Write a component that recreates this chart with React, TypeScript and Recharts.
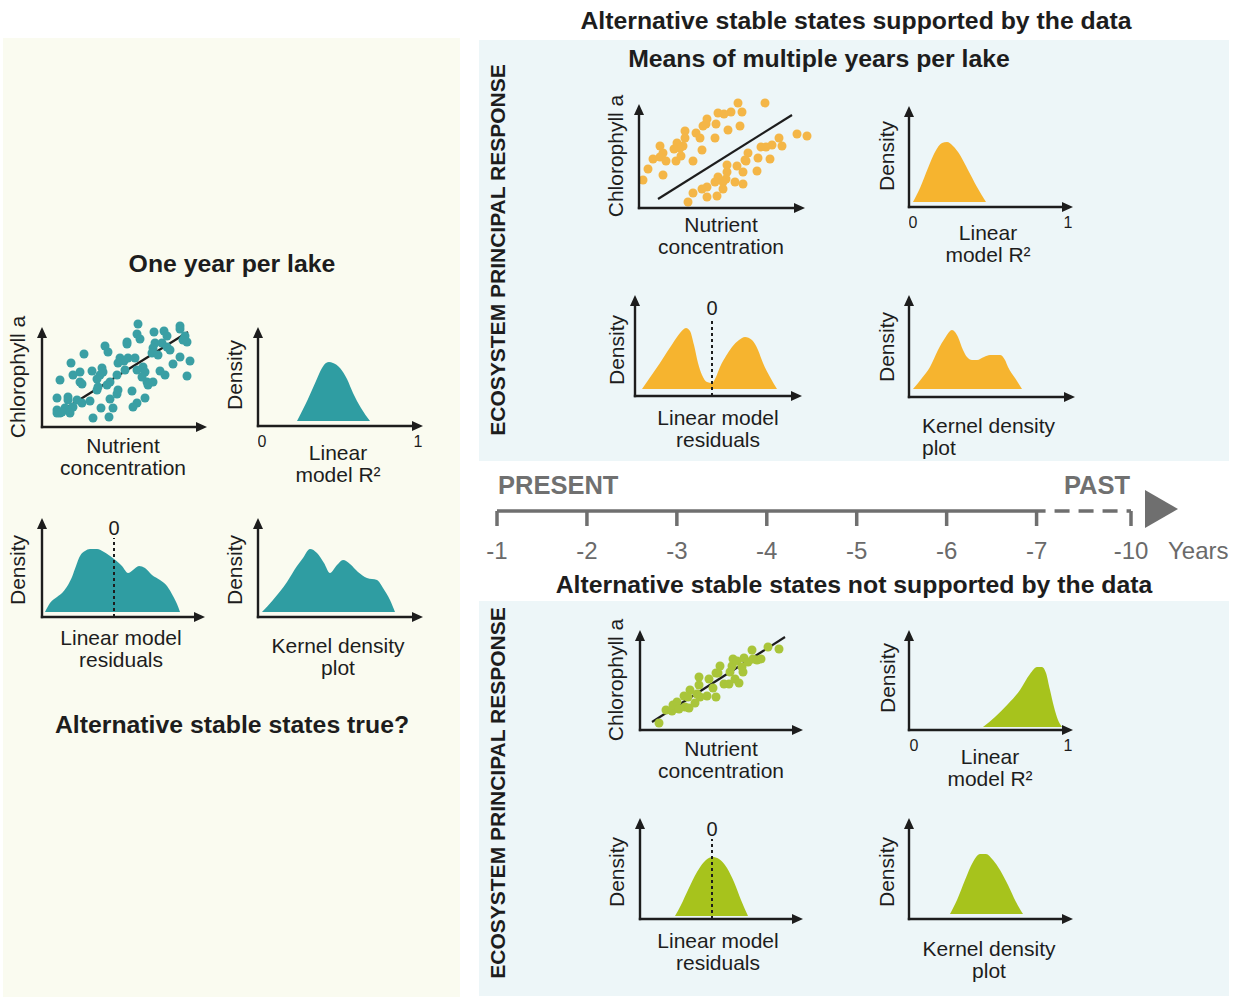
import React from "react";
import {
  ScatterChart,
  Scatter,
  AreaChart,
  Area,
  LineChart,
  Line,
  XAxis,
  YAxis,
  ZAxis,
  ReferenceLine,
} from "recharts";

const FONT = '"Liberation Sans", Arial, Helvetica, sans-serif';
const INK = "#1d1d1d";
const GREY = "#6f6f6f";
const TEAL = "#2f9da2";
const TEAL_DOT = "#3a9fa4";
const ORANGE = "#f6b42f";
const ORANGE_DOT = "#f4b647";
const GREEN = "#a7c31c";
const GREEN_DOT = "#a9c53a";
const PAD = 10;

// scatter points: [nutrient, chlorophyll] in arbitrary units
const TEAL_SCATTER = [
  [96, 103], [138, 101], [138, 98], [95, 93], [112, 95], [122, 96], [98, 88], [125, 91],
  [85, 85], [85, 83], [113, 84], [120, 84], [125, 80], [111, 79], [63, 81], [66, 75],
  [143, 91], [145, 85], [141, 87], [128, 77], [110, 74], [116, 72], [42, 73], [78, 69],
  [82, 66], [86, 69], [93, 69], [76, 64], [148, 66], [131, 63], [138, 70], [29, 64],
  [101, 60], [95, 57], [103, 55], [118, 56], [123, 52], [145, 51], [60, 59], [61, 55],
  [58, 52], [50, 56], [38, 55], [31, 52], [18, 47], [38, 45], [40, 43], [55, 48],
  [75, 52], [83, 57], [68, 45], [65, 42], [56, 40], [55, 37], [105, 45], [106, 42],
  [111, 45], [100, 50], [76, 37], [90, 36], [75, 33], [68, 28], [26, 30], [26, 27],
  [15, 29], [35, 27], [28, 17], [31, 20], [23, 19], [15, 17], [15, 14], [18, 14],
  [20, 15], [40, 24], [48, 26], [103, 29], [95, 24], [91, 20], [59, 19], [71, 19],
  [67, 10], [51, 9], [28, 14],
];
const TEAL_FIT = [[13, 12], [146, 95]];

const ORANGE_SCATTER = [
  [126, 105], [99, 105], [92, 96], [103, 96], [79, 95], [85, 94], [68, 89], [77, 84],
  [64, 82], [67, 84], [101, 82], [46, 77], [57, 75], [89, 78], [46, 70], [61, 70],
  [76, 70], [21, 62], [38, 65], [44, 62], [41, 60], [35, 59], [63, 58], [24, 55],
  [21, 51], [14, 49], [27, 47], [37, 47], [42, 52], [54, 47], [9, 39], [24, 33],
  [4, 28], [158, 74], [168, 72], [140, 70], [133, 63], [122, 61], [127, 61], [143, 62],
  [109, 55], [119, 50], [106, 48], [107, 47], [131, 49], [98, 42], [88, 43], [88, 36],
  [104, 36], [118, 37], [79, 31], [87, 29], [76, 26], [84, 26], [96, 26], [104, 24],
  [68, 21], [63, 19], [54, 15], [84, 19], [68, 11], [78, 12], [49, 6],
];
const ORANGE_FIT = [[19, 9], [153, 93]];

const GREEN_SCATTER = [
  [19, 7], [26, 20], [32, 19], [33, 25], [37, 28], [39, 21], [45, 23], [49, 22],
  [44, 34], [50, 40], [48, 33], [55, 27], [57, 36], [60, 33], [59, 45], [59, 53],
  [67, 34], [69, 51], [73, 42], [76, 33], [76, 57], [78, 57], [80, 64], [84, 46],
  [89, 46], [90, 58], [92, 64], [93, 71], [95, 51], [97, 69], [99, 47], [102, 63],
  [103, 58], [104, 72], [108, 68], [112, 80], [113, 71], [117, 70], [121, 71], [128, 83],
  [139, 81],
];
const GREEN_FIT = [[12, 8], [145, 93]];

// density curves: [value, density]
const TEAL_R2 = [
  [39, 5], [50, 27], [58, 45], [64, 58], [68, 63], [71, 64], [75, 63], [82, 58],
  [89, 47], [95, 33], [103, 18], [112, 5],
];
const TEAL_RESID = [
  [3, 5], [8, 14], [15, 20], [21, 25], [26, 32], [30, 40], [34, 51], [38, 61], [43, 66],
  [48, 68], [55, 68], [62, 65], [72, 58], [80, 51], [86, 44], [91, 47], [97, 51],
  [103, 49], [110, 42], [118, 37], [125, 31], [131, 21], [135, 13], [138, 5],
];
const TEAL_KDE = [
  [4, 5], [15, 17], [29, 35], [39, 51], [45, 59], [52, 68], [59, 64], [66, 54], [72, 44],
  [79, 52], [85, 57], [92, 53], [100, 45], [109, 39], [119, 37], [125, 29], [132, 17],
  [137, 5],
];

const ORANGE_R2 = [
  [4, 5], [11, 19], [19, 39], [26, 55], [33, 64], [38, 65], [44, 61], [51, 52], [59, 37],
  [68, 20], [77, 5],
];
const ORANGE_RESID = [
  [7, 7], [16, 20], [25, 33], [32, 44], [38, 53], [45, 63], [51, 68], [55, 65], [59, 51],
  [63, 33], [67, 21], [72, 14], [77, 13], [81, 19], [85, 29], [91, 40], [97, 49],
  [104, 56], [110, 59], [117, 56], [123, 46], [128, 33], [135, 19], [142, 7],
];
const ORANGE_KDE = [
  [4, 8], [13, 19], [21, 30], [29, 47], [36, 59], [43, 67], [49, 60], [54, 47], [58, 40],
  [63, 37], [68, 37], [75, 40], [81, 42], [91, 42], [96, 37], [99, 30], [106, 19],
  [113, 8],
];

const GREEN_R2 = [
  [74, 3], [86, 13], [99, 26], [111, 40], [121, 56], [128, 63], [133, 63], [137, 57],
  [141, 40], [145, 23], [149, 10], [153, 3],
];
const GREEN_RESID = [
  [35, 3], [41, 14], [48, 29], [57, 47], [64, 57], [72, 62], [79, 60], [87, 51], [94, 37],
  [101, 19], [108, 3],
];
const GREEN_KDE = [
  [41, 5], [48, 19], [56, 39], [64, 57], [71, 65], [77, 65], [84, 59], [91, 49], [99, 34],
  [107, 17], [114, 5],
];

const R2_TICK_LABELS = ["0", "1"];

// timeline
const TIME_POS = [0, 1, 2, 3, 4, 5, 6, 7.05];
const TIME_LABELS = ["-1", "-2", "-3", "-4", "-5", "-6", "-7", "-10"];
const TIME_SOLID = [{ p: 0, v: 0 }, { p: 6.1, v: 0 }];
const TIME_DASHED = [{ p: 6.2, v: 0 }, { p: 7.05, v: 0 }];

const toPts = (a: number[][]) => a.map(([x, y]) => ({ x, y }));

function Arrows({ ax, ay, H }: { ax: number; ay: number; H: number }) {
  return (
    <svg
      width={1}
      height={1}
      style={{ position: "absolute", left: 0, top: 0, overflow: "visible", pointerEvents: "none" }}
    >
      <line x1={-1.2} y1={H} x2={ax - 9} y2={H} stroke={INK} strokeWidth={2.4} />
      <line x1={0} y1={H + 1.2} x2={0} y2={H - ay + 9} stroke={INK} strokeWidth={2.4} />
      <polygon points={`${ax},${H} ${ax - 11},${H - 5} ${ax - 11},${H + 5}`} fill={INK} />
      <polygon points={`0,${H - ay} -5,${H - ay + 11} 5,${H - ay + 11}`} fill={INK} />
    </svg>
  );
}

interface ScatterProps {
  ox: number;
  oy: number;
  ax: number;
  ay: number;
  pts: number[][];
  fit: number[][];
  color: string;
}

function ScatterMini({ ox, oy, ax, ay, pts, fit, color }: ScatterProps) {
  const W = ax + PAD;
  const H = ay + PAD;
  return (
    <div style={{ position: "absolute", left: ox, top: oy - H, width: W, height: H }}>
      <ScatterChart width={W} height={H} margin={{ top: 0, right: 0, bottom: 0, left: 0 }}>
        <XAxis type="number" dataKey="x" domain={[0, W]} hide />
        <YAxis type="number" dataKey="y" domain={[0, H]} hide />
        <ZAxis range={[30, 30]} />
        <Scatter data={toPts(pts)} fill={color} isAnimationActive={false} />
        <ReferenceLine segment={toPts(fit)} stroke={INK} strokeWidth={2.2} />
      </ScatterChart>
      <Arrows ax={ax} ay={ay} H={H} />
    </div>
  );
}

interface DensityProps {
  ox: number;
  oy: number;
  ax: number;
  ay: number;
  pts: number[][];
  base: number;
  color: string;
  zeroAt?: number;
  zeroTop?: number;
  ticks?: number[];
}

function DensityMini({ ox, oy, ax, ay, pts, base, color, zeroAt, zeroTop, ticks }: DensityProps) {
  const W = ax + PAD;
  const H = ay + PAD;
  const axisH = ticks ? 30 : 0;
  return (
    <div style={{ position: "absolute", left: ox, top: oy - H, width: W, height: H + axisH }}>
      <AreaChart
        width={W}
        height={H + axisH}
        data={toPts(pts)}
        margin={{ top: 0, right: 0, bottom: 0, left: 0 }}
      >
        <XAxis
          type="number"
          dataKey="x"
          domain={[0, W]}
          hide={!ticks}
          ticks={ticks}
          interval={0}
          tickFormatter={(_v: number, i: number) => R2_TICK_LABELS[i]}
          axisLine={false}
          tickLine={false}
          tickSize={4}
          tickMargin={6}
          height={axisH || 30}
          tick={{ fontSize: 16, fill: INK, fontFamily: FONT }}
        />
        <YAxis type="number" domain={[0, H]} hide />
        <Area
          dataKey="y"
          type="monotone"
          baseValue={base}
          stroke="none"
          fill={color}
          fillOpacity={1}
          dot={false}
          activeDot={false}
          isAnimationActive={false}
        />
        {zeroAt !== undefined && (
          <ReferenceLine
            segment={[
              { x: zeroAt, y: 0 },
              { x: zeroAt, y: zeroTop },
            ]}
            stroke={INK}
            strokeWidth={2}
            strokeDasharray="3 3"
            label={{ value: "0", position: "top", offset: 3, fontSize: 20, fill: INK, fontFamily: FONT }}
          />
        )}
      </AreaChart>
      <Arrows ax={ax} ay={ay} H={H} />
    </div>
  );
}

interface TxtProps {
  x: number;
  y: number;
  text: string;
  size?: number;
  bold?: boolean;
  rotate?: boolean;
  left?: boolean;
  color?: string;
}

function Txt({ x, y, text, size = 21, bold = false, rotate = false, left = false, color = INK }: TxtProps) {
  return (
    <div
      style={{
        position: "absolute",
        left: x,
        top: y,
        transform: `translate(${left ? "0" : "-50%"}, -50%)${rotate ? " rotate(-90deg)" : ""}`,
        whiteSpace: "pre",
        textAlign: left ? "left" : "center",
        fontSize: size,
        fontWeight: bold ? 700 : 400,
        lineHeight: `${Math.round(size * 1.07)}px`,
        color,
      }}
    >
      {text}
    </div>
  );
}

function Panel({ x, y, w, h, bg }: { x: number; y: number; w: number; h: number; bg: string }) {
  return <div style={{ position: "absolute", left: x, top: y, width: w, height: h, background: bg }} />;
}

function Timeline() {
  return (
    <>
      <div style={{ position: "absolute", left: 477, top: 496 }}>
        <LineChart width={674} height={90} margin={{ top: 0, right: 20, bottom: 0, left: 20 }}>
          <XAxis
            type="number"
            dataKey="p"
            domain={[0, 7.05]}
            ticks={TIME_POS}
            interval={0}
            tickFormatter={(_v: number, i: number) => TIME_LABELS[i]}
            axisLine={false}
            stroke={GREY}
            tickLine={{ stroke: GREY, strokeWidth: 3.5 }}
            tickSize={15}
            tickMargin={16}
            height={75}
            tick={{ fontSize: 24, fill: "#6a6a6a", fontFamily: FONT }}
          />
          <YAxis type="number" domain={[0, 1]} hide />
          <Line data={TIME_SOLID} dataKey="v" stroke={GREY} strokeWidth={3.5} dot={false} isAnimationActive={false} />
          <Line
            data={TIME_DASHED}
            dataKey="v"
            stroke={GREY}
            strokeWidth={3.5}
            strokeDasharray="15 9"
            dot={false}
            isAnimationActive={false}
          />
        </LineChart>
      </div>
      <svg width={1241} height={998} style={{ position: "absolute", left: 0, top: 0, pointerEvents: "none" }}>
        <polygon points="1145,490 1178,509 1145,528" fill={GREY} />
      </svg>
      <Txt x={498} y={485} text="PRESENT" size={25.5} bold left color="#707070" />
      <Txt x={1064} y={485} text="PAST" size={25.5} bold left color="#707070" />
      <Txt x={1168} y={551} text="Years" size={24} left color="#6a6a6a" />
    </>
  );
}

export default function App() {
  return (
    <div
      style={{
        position: "absolute",
        left: 0,
        top: 0,
        width: 1241,
        height: 998,
        background: "#ffffff",
        fontFamily: FONT,
        overflow: "hidden",
      }}
    >
      <Panel x={3} y={38} w={457} h={959} bg="#fafbf0" />
      <Panel x={479} y={40} w={750} h={421} bg="#edf6f8" />
      <Panel x={479} y={601} w={750} h={395} bg="#edf6f8" />

      {/* titles */}
      <Txt x={856} y={20} text="Alternative stable states supported by the data" size={24.8} bold />
      <Txt x={819} y={58} text="Means of multiple years per lake" size={24.8} bold />
      <Txt x={232} y={263} text="One year per lake" size={24.8} bold />
      <Txt x={232} y={724} text="Alternative stable states true?" size={24.8} bold />
      <Txt x={854} y={584} text="Alternative stable states not supported by the data" size={24.8} bold />
      <Txt x={498} y={250} text="ECOSYSTEM PRINCIPAL RESPONSE" size={21} bold rotate />
      <Txt x={498} y={793} text="ECOSYSTEM PRINCIPAL RESPONSE" size={21} bold rotate />

      {/* left panel: one year per lake */}
      <ScatterMini ox={42} oy={427} ax={165} ay={100} pts={TEAL_SCATTER} fit={TEAL_FIT} color={TEAL_DOT} />
      <DensityMini ox={258} oy={426} ax={165} ay={99} pts={TEAL_R2} base={5} color={TEAL} ticks={[4, 160]} />
      <DensityMini ox={42} oy={617} ax={163} ay={99} pts={TEAL_RESID} base={5} color={TEAL} zeroAt={72} zeroTop={79} />
      <DensityMini ox={258} oy={617} ax={165} ay={99} pts={TEAL_KDE} base={5} color={TEAL} />
      <Txt x={18} y={377} text="Chlorophyll a" rotate />
      <Txt x={235} y={375} text="Density" rotate />
      <Txt x={18} y={570} text="Density" rotate />
      <Txt x={235} y={570} text="Density" rotate />
      <Txt x={123} y={457} text={"Nutrient\nconcentration"} />
      <Txt x={338} y={464} text={"Linear\nmodel R²"} />
      <Txt x={121} y={649} text={"Linear model\nresiduals"} />
      <Txt x={338} y={657} text={"Kernel density\nplot"} />

      {/* top right: supported */}
      <ScatterMini ox={639} oy={208} ax={166} ay={104} pts={ORANGE_SCATTER} fit={ORANGE_FIT} color={ORANGE_DOT} />
      <DensityMini ox={909} oy={207} ax={164} ay={101} pts={ORANGE_R2} base={5} color={ORANGE} ticks={[4, 159]} />
      <DensityMini ox={635} oy={396} ax={167} ay={101} pts={ORANGE_RESID} base={7} color={ORANGE} zeroAt={77} zeroTop={78} />
      <DensityMini ox={909} oy={397} ax={166} ay={102} pts={ORANGE_KDE} base={8} color={ORANGE} />
      <Txt x={616} y={156} text="Chlorophyll a" rotate />
      <Txt x={887} y={156} text="Density" rotate />
      <Txt x={617} y={350} text="Density" rotate />
      <Txt x={887} y={347} text="Density" rotate />
      <Txt x={721} y={236} text={"Nutrient\nconcentration"} />
      <Txt x={988} y={244} text={"Linear\nmodel R²"} />
      <Txt x={718} y={429} text={"Linear model\nresiduals"} />
      <Txt x={922} y={437} text={"Kernel density\nplot"} left />

      {/* bottom right: not supported */}
      <ScatterMini ox={640} oy={730} ax={163} ay={100} pts={GREEN_SCATTER} fit={GREEN_FIT} color={GREEN_DOT} />
      <DensityMini ox={909} oy={730} ax={164} ay={100} pts={GREEN_R2} base={3} color={GREEN} ticks={[5, 159]} />
      <DensityMini ox={640} oy={919} ax={163} ay={101} pts={GREEN_RESID} base={3} color={GREEN} zeroAt={72} zeroTop={80} />
      <DensityMini ox={909} oy={919} ax={164} ay={101} pts={GREEN_KDE} base={5} color={GREEN} />
      <Txt x={616} y={680} text="Chlorophyll a" rotate />
      <Txt x={888} y={678} text="Density" rotate />
      <Txt x={617} y={872} text="Density" rotate />
      <Txt x={887} y={872} text="Density" rotate />
      <Txt x={721} y={760} text={"Nutrient\nconcentration"} />
      <Txt x={990} y={768} text={"Linear\nmodel R²"} />
      <Txt x={718} y={952} text={"Linear model\nresiduals"} />
      <Txt x={989} y={960} text={"Kernel density\nplot"} />

      <Timeline />
    </div>
  );
}
